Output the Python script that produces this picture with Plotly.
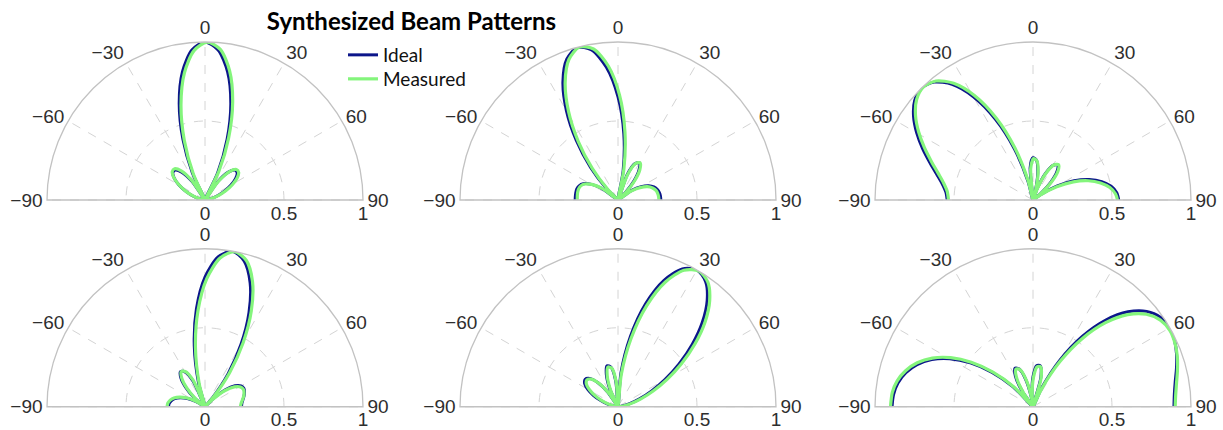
import plotly.graph_objects as go

# ---------------- data (angle in degrees, normalized magnitude) ----------------
theta1 = [-90, -85, -80, -75, -70, -65, -60, -55, -50, -45, -40, -35, -30, -25, -20, -15, -10, -5, 0,
          5, 10, 15, 20, 25, 30, 35, 40, 45, 50, 55, 60, 65, 70, 75, 80, 85, 90]
ideal1 = [0, 0.006, 0.024, 0.053, 0.093, 0.140, 0.190, 0.236, 0.266, 0.268, 0.230, 0.142, 0,
          0.190, 0.409, 0.631, 0.823, 0.953, 1.0,
          0.953, 0.823, 0.631, 0.409, 0.190, 0,
          0.142, 0.230, 0.268, 0.266, 0.236, 0.190, 0.140, 0.093, 0.053, 0.024, 0.006, 0]
theta1m = [-90, -84.2, -79.2, -74.2, -69.2, -64.2, -59.2, -54.2, -49.2, -44.2, -39.2, -34.2, -29.2,
           -24.2, -19.2, -14.2, -9.2, -4.2, 0.8, 5.8, 10.8, 15.8, 20.8, 25.8, 30.8, 35.8, 40.8, 45.8,
           50.8, 55.8, 60.8, 65.8, 70.8, 75.8, 80.8, 85.8, 90]
meas1 = [0.004, 0.010, 0.028, 0.058, 0.099, 0.146, 0.197, 0.244, 0.274, 0.276, 0.238, 0.150, 0.008,
         0.180, 0.398, 0.620, 0.815, 0.948, 0.999,
         0.958, 0.832, 0.643, 0.421, 0.201, 0.010,
         0.148, 0.238, 0.277, 0.275, 0.245, 0.198, 0.146, 0.098, 0.057, 0.027, 0.008, 0.002]

theta2 = [-90, -85, -80, -75, -70, -65, -60, -55, -48.6, -45, -40, -35, -30, -25, -20, -15, -10, -5, 0,
          5, 10, 14.5, 20, 25, 30, 35, 40, 45, 48.6, 55, 60, 65, 70, 75, 80, 85, 90]
ideal2 = [0.271, 0.271, 0.271, 0.270, 0.262, 0.242, 0.201, 0.135, 0,
          0.101, 0.270, 0.460, 0.653, 0.825, 0.948, 0.999, 0.964, 0.843, 0.653, 0.422, 0.187, 0,
          0.170, 0.254, 0.271, 0.232, 0.158, 0.067, 0,
          0.106, 0.169, 0.214, 0.242, 0.258, 0.266, 0.270, 0.271]
theta2m = [-90, -84.2, -79.2, -74.2, -69.2, -64.2, -59.2, -54.2, -47.8, -44.2, -39.2, -34.2, -29.2,
           -24.2, -19.2, -14.2, -9.2, -4.2, 0.8, 5.8, 10.8, 15.3, 20.8, 25.8, 30.8, 35.8, 40.8, 45.8,
           49.4, 55.8, 60.8, 65.8, 70.8, 75.8, 80.8, 85.8, 90]
meas2 = [0.258, 0.259, 0.260, 0.259, 0.252, 0.233, 0.193, 0.128, 0.006,
         0.092, 0.258, 0.447, 0.642, 0.816, 0.943, 0.998, 0.968, 0.852, 0.665, 0.434, 0.198, 0.010,
         0.172, 0.257, 0.274, 0.236, 0.161, 0.070, 0.008,
         0.100, 0.160, 0.205, 0.232, 0.248, 0.255, 0.258, 0.259]

theta3 = [-90, -85, -80, -75, -70, -65, -60, -55, -50, -45, -40, -35, -30, -25, -20, -15, -12,
          -5, 0, 5, 10, 15, 17, 20, 25, 30, 35, 40, 45, 50, 52.5, 55, 60, 65, 70, 75, 80, 85, 90]
ideal3 = [0.543, 0.553, 0.583, 0.631, 0.695, 0.771, 0.850, 0.923, 0.978, 1.0, 0.974, 0.893, 0.754,
          0.565, 0.345, 0.123, 0,
          0.206, 0.268, 0.253, 0.173, 0.053, 0,
          0.076, 0.185, 0.254, 0.271, 0.237, 0.160, 0.057, 0,
          0.061, 0.178, 0.287, 0.378, 0.450, 0.502, 0.532, 0.543]
theta3m = [-90, -84.2, -79.2, -74.2, -69.2, -64.2, -59.2, -54.2, -49.2, -44.2, -39.2, -34.2, -29.2,
           -24.2, -19.2, -14.2, -11.2, -4.2, 0.8, 5.8, 10.8, 15.8, 17.8, 20.8, 25.8, 30.8, 35.8, 40.8,
           45.8, 50.8, 53.3, 55.8, 60.8, 65.8, 70.8, 75.8, 80.8, 85.8, 90]
meas3 = [0.535, 0.546, 0.576, 0.624, 0.688, 0.764, 0.843, 0.917, 0.973, 0.996, 0.972, 0.893, 0.756,
         0.569, 0.350, 0.128, 0.006,
         0.200, 0.262, 0.248, 0.170, 0.052, 0.005,
         0.078, 0.188, 0.258, 0.276, 0.242, 0.163, 0.058, 0.004,
         0.058, 0.172, 0.280, 0.370, 0.441, 0.493, 0.524, 0.535]

theta4 = [-90, -85, -80, -75, -70, -65, -60, -55.6, -50, -45, -40, -35, -30, -25, -19,
          -15, -10, -5, 0, 5, 10, 15, 20, 25, 30, 35, 40, 42.5, 45, 50, 55, 60, 65, 70, 75, 80, 85, 90]
ideal4 = [0.231, 0.228, 0.217, 0.198, 0.167, 0.123, 0.064, 0,
          0.091, 0.171, 0.237, 0.271, 0.255, 0.178, 0,
          0.161, 0.391, 0.622, 0.821, 0.952, 1.0, 0.956, 0.835, 0.659, 0.456, 0.254, 0.075, 0,
          0.067, 0.168, 0.231, 0.263, 0.272, 0.266, 0.255, 0.243, 0.234, 0.231]
theta4m = [-90, -84.2, -79.2, -74.2, -69.2, -64.2, -59.2, -54.8, -49.2, -44.2, -39.2, -34.2, -29.2,
           -24.2, -18.2, -14.2, -9.2, -4.2, 0.8, 5.8, 10.8, 15.8, 20.8, 25.8, 30.8, 35.8, 40.8, 43.3,
           45.8, 50.8, 55.8, 60.8, 65.8, 70.8, 75.8, 80.8, 85.8, 90]
meas4 = [0.240, 0.236, 0.224, 0.204, 0.172, 0.127, 0.067, 0.005,
         0.086, 0.166, 0.232, 0.268, 0.256, 0.184, 0.008,
         0.150, 0.378, 0.609, 0.811, 0.946, 0.999, 0.962, 0.847, 0.673, 0.470, 0.266, 0.085, 0.006,
         0.058, 0.160, 0.224, 0.257, 0.267, 0.262, 0.251, 0.238, 0.228, 0.224]

theta5 = [-90, -85, -80, -75, -70, -65, -60, -55, -50, -45, -40, -35, -30, -25, -20, -15, -10, -5, 0,
          5, 10, 15, 20, 25, 30, 35, 40, 45, 50, 55, 60, 65, 70, 75, 80, 85, 90]
ideal5 = [0, 0.008, 0.032, 0.071, 0.119, 0.172, 0.221, 0.258, 0.271, 0.254, 0.200, 0.112, 0,
          0.118, 0.215, 0.268, 0.254, 0.163, 0,
          0.216, 0.452, 0.675, 0.852, 0.963, 1.0, 0.967, 0.878, 0.754, 0.613, 0.472, 0.343, 0.233,
          0.145, 0.080, 0.035, 0.009, 0]
theta5m = [-90, -84.2, -79.2, -74.2, -69.2, -64.2, -59.2, -54.2, -49.2, -44.2, -39.2, -34.2, -29.2,
           -24.2, -19.2, -14.2, -9.2, -4.2, 0.8, 5.8, 10.8, 15.8, 20.8, 25.8, 30.8, 35.8, 40.8, 45.8,
           50.8, 55.8, 60.8, 65.8, 70.8, 75.8, 80.8, 85.8, 90]
meas5 = [0.004, 0.008, 0.028, 0.064, 0.110, 0.162, 0.210, 0.247, 0.260, 0.244, 0.192, 0.106, 0.006,
         0.112, 0.207, 0.259, 0.247, 0.158, 0.006,
         0.206, 0.440, 0.664, 0.845, 0.960, 1.0, 0.972, 0.888, 0.768, 0.628, 0.487, 0.356, 0.244,
         0.153, 0.087, 0.040, 0.012, 0.003]

theta6 = [-90, -85, -80, -75, -70, -65, -60, -55, -50, -45, -39.4, -35, -30, -25, -20, -15, -10, -7.7,
          -5, 0, 5, 10, 15, 21.5, 25, 30, 35, 40, 45, 50, 55, 60, 65, 70, 75, 80, 85, 90]
ideal6 = [0.892, 0.886, 0.868, 0.833, 0.781, 0.707, 0.608, 0.484, 0.338, 0.178, 0,
          0.119, 0.222, 0.269, 0.254, 0.180, 0.062, 0,
          0.073, 0.190, 0.261, 0.263, 0.191, 0,
          0.136, 0.343, 0.544, 0.717, 0.850, 0.939, 0.986, 1.0, 0.989, 0.967, 0.940, 0.914, 0.898, 0.892]
theta6m = [-90, -84.2, -79.2, -74.2, -69.2, -64.2, -59.2, -54.2, -49.2, -44.2, -38.6, -34.2, -29.2,
           -24.2, -19.2, -14.2, -9.2, -6.9, -4.2, 0.8, 5.8, 10.8, 15.8, 22.3, 25.8, 30.8, 35.8, 40.8,
           45.8, 50.8, 55.8, 60.8, 65.8, 70.8, 75.8, 80.8, 85.8, 90]
meas6 = [0.902, 0.895, 0.875, 0.838, 0.784, 0.708, 0.607, 0.482, 0.335, 0.176, 0.006,
         0.115, 0.216, 0.262, 0.248, 0.176, 0.060, 0.005,
         0.070, 0.184, 0.254, 0.257, 0.187, 0.006,
         0.130, 0.333, 0.531, 0.703, 0.836, 0.926, 0.975, 0.992, 0.985, 0.967, 0.943, 0.920, 0.905, 0.900]

angle_ticks = [-90, -60, -30, 0, 30, 60, 90]
angle_labels = ["\u221290", "\u221260", "\u221230", "0", "30", "60", "90"]
radial_ticks = [0, 0.5, 1]
radial_labels = ["0", "0.5", "1"]

series_names = ["Ideal", "Measured"]
title_text = "Synthesized Beam Patterns"

panels = [
    (theta1, ideal1, theta1m, meas1),
    (theta2, ideal2, theta2m, meas2),
    (theta3, ideal3, theta3m, meas3),
    (theta4, ideal4, theta4m, meas4),
    (theta5, ideal5, theta5m, meas5),
    (theta6, ideal6, theta6m, meas6),
]

# ---------------- styling / layout ----------------
W, H = 1223, 430
IDEAL_COLOR = "#0c168a"
MEAS_COLOR = "#84f57c"
TICK_FONT = dict(family="Liberation Sans, Arial, sans-serif", size=19, color="#2e2e2e")

col_x = [(47, 363), (460, 776), (875, 1191)]
row_y = [(42, 200), (248.5, 407)]

fig = go.Figure()
layout_polars = {}
for i, (th, ideal, thm, meas) in enumerate(panels):
    row, col = divmod(i, 3)
    key = "polar" if i == 0 else f"polar{i + 1}"
    x0, x1 = col_x[col]
    y0, y1 = row_y[row]
    layout_polars[key] = dict(
        domain=dict(x=[x0 / W, x1 / W], y=[1 - y1 / H, 1 - y0 / H]),
        sector=[0, 180],
        bgcolor="white",
        angularaxis=dict(
            rotation=90, direction="clockwise", thetaunit="degrees",
            tickmode="array", tickvals=angle_ticks, ticktext=angle_labels,
            showline=True, linecolor="#c2c2c2", linewidth=1.3,
            showgrid=True, gridcolor="#d4d4d4", gridwidth=1, griddash="dash",
            ticks="", tickfont=TICK_FONT,
        ),
        radialaxis=dict(
            range=[0, 1], angle=0, side="clockwise",
            tickmode="array", tickvals=radial_ticks, ticktext=radial_labels,
            showline=False, showgrid=True, gridcolor="#d4d4d4", gridwidth=1, griddash="dash",
            ticks="", tickfont=TICK_FONT, tickangle=0,
        ),
    )
    fig.add_trace(go.Scatterpolar(
        r=ideal, theta=th, mode="lines", name=series_names[0],
        line=dict(color=IDEAL_COLOR, width=3, shape="spline", smoothing=0.8),
        subplot=key, showlegend=(i == 0), legend="legend",
    ))
    fig.add_trace(go.Scatterpolar(
        r=meas, theta=thm, mode="lines", name=series_names[1],
        line=dict(color=MEAS_COLOR, width=3.2, shape="spline", smoothing=0.8),
        subplot=key, showlegend=(i == 0), legend="legend2",
    ))

LEG_FONT = dict(family="Lato, Carlito, sans-serif", size=19, color="#111111")
fig.update_layout(
    template="none",
    width=W, height=H,
    margin=dict(l=0, r=0, t=0, b=0),
    paper_bgcolor="white",
    title=dict(text="<b>" + title_text + "</b>", x=411.5 / W, xanchor="center",
               y=1 - 22 / H, yanchor="middle",
               font=dict(family="Lato, Carlito, sans-serif", size=24, color="#000000")),
    legend=dict(x=343 / W, xanchor="left", y=1 - 55 / H, yanchor="middle",
                bgcolor="rgba(0,0,0,0)", borderwidth=0, font=LEG_FONT, itemwidth=30),
    legend2=dict(x=343 / W, xanchor="left", y=1 - 79 / H, yanchor="middle",
                 bgcolor="rgba(0,0,0,0)", borderwidth=0, font=LEG_FONT, itemwidth=30),
    **layout_polars,
)

fig.write_html("out.html")
